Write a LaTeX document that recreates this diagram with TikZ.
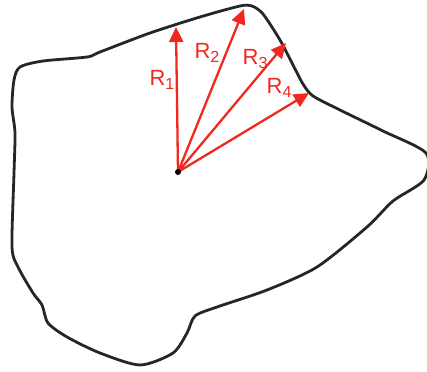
\documentclass[tikz,border=0pt]{standalone}
\usepackage{fontspec}
\setmainfont{Liberation Sans}
\usetikzlibrary{arrows.meta}
\definecolor{radred}{RGB}{240,40,30}
\newcommand{\rsub}[1]{R\raisebox{-0.35ex}{\fontsize{16}{16}\selectfont #1}}
\begin{document}
\begin{tikzpicture}[
        x=1pt, y=-1pt,
        outline/.style={draw=black!85, line width=2.8pt, line join=round},
        radius/.style={draw=radred, line width=2.3pt,
          -{Triangle[length=15pt, width=14pt]}},
        radlbl/.style={font=\fontsize{22}{26}\selectfont, text=radred, inner sep=1pt}
      ]
      \useasboundingbox (0,0) rectangle (427,371);
      \draw[outline] plot[smooth cycle, tension=0.45] coordinates {
        (20,67) (14,80) (12,107) (15,133) (14,173) (12,247) (18,267)
        (33,293) (42,305) (48,323) (67,337) (100,353) (140,365)
        (173,353) (187,333) (195,316) (217,307) (267,290) (317,267)
        (367,227) (393,201) (424,180) (426,153) (383,131) (340,110)
        (313,96) (303,84) (293,65) (280,40) (263,14) (252,6) (240,6)
        (200,17) (150,33) (100,52) (87,57) (43,61)};
      \coordinate (o) at (178,172);
      \coordinate (t1) at (176,27);
      \coordinate (t2) at (244,9);
      \coordinate (t3) at (286,43);
      \coordinate (t4) at (309,93);
      \foreach \i in {1,...,4} {
        \draw[radius] (o) -- (t\i);
      }
      \fill[black] (o) circle (3pt);
      \node[radlbl] (r1) at (162,80) {\rsub{1}};
      \node[radlbl] (r2) at (207,53) {\rsub{2}};
      \node[radlbl] (r3) at (255,59) {\rsub{3}};
      \node[radlbl] (r4) at (279,88) {\rsub{4}};
    \end{tikzpicture}
\end{document}
